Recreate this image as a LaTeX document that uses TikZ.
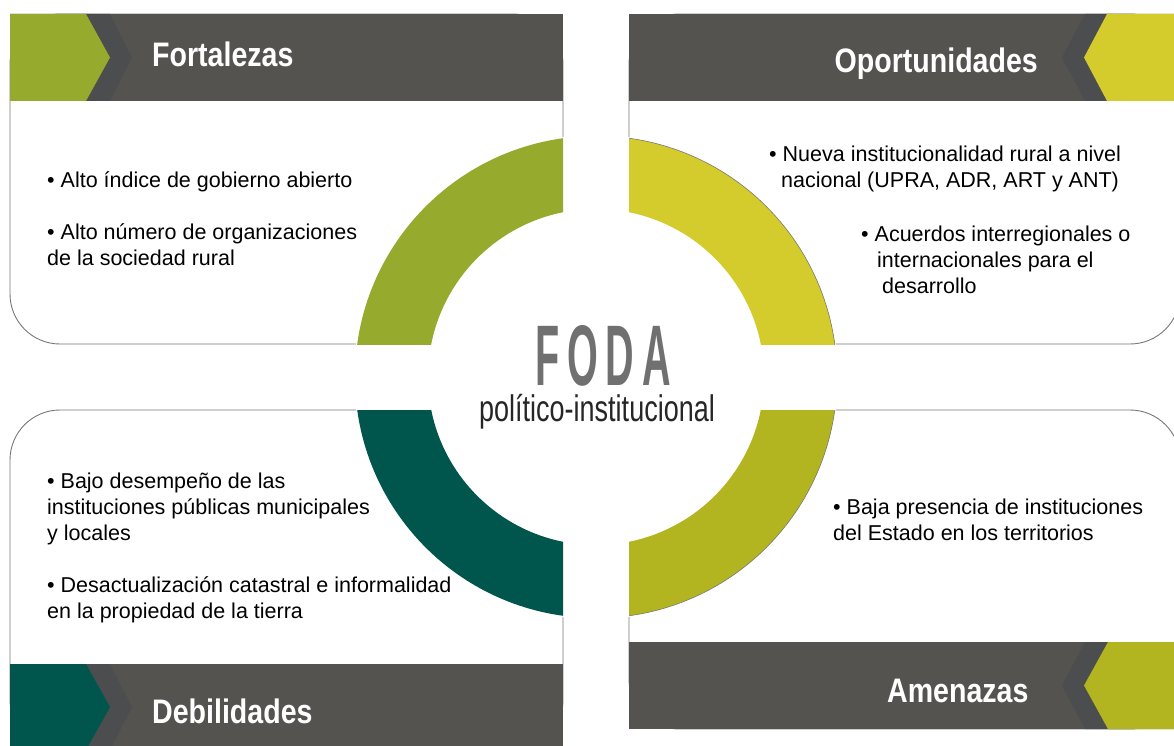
\documentclass[tikz,border=0pt]{standalone}
\usepackage{fontspec}
\setmainfont{Liberation Sans}
\newfontfamily\headfont[FakeStretch=0.84]{Liberation Sans}
\newfontfamily\fodafont[FakeStretch=0.46,LetterSpace=9]{Liberation Sans}
\newfontfamily\subfont[FakeStretch=0.73]{Liberation Sans}

\definecolor{headgray}{RGB}{85,83,80}
\definecolor{chevgray}{RGB}{76,77,79}
\definecolor{linegray}{RGB}{120,120,120}
\definecolor{fodagray}{RGB}{112,112,112}
\definecolor{fortcol}{RGB}{150,170,46}
\definecolor{oportcol}{RGB}{212,203,45}
\definecolor{debilcol}{RGB}{0,86,77}
\definecolor{amenacol}{RGB}{179,181,32}

\tikzset{
  panel/.style={fill=white, draw=linegray, line width=0.9pt, rounded corners=50pt},
  headband/.style={fill=headgray},
  headtext/.style={text=white, inner sep=0pt, font=\headfont\bfseries\fontsize{34}{34}\selectfont},
  itemtext/.style={anchor=base west, inner sep=0pt, align=left, font=\fontsize{21.5}{26}\selectfont},
}

\begin{document}
\begin{tikzpicture}[x=1pt,y=-1pt]
\useasboundingbox (0,0) rectangle (1174,746);
\clip (0,0) rectangle (1174,746);
\coordinate (ring) at (596,377);

% cuadros
\draw[panel] (10,14) rectangle (563,344);
\draw[panel] (629,14) rectangle (1180,344);
\draw[panel] (10,410) rectangle (563,750);
\draw[panel] (629,410) rectangle (1180,729);

% bandas de titulo
\fill[headband] (10,14) rectangle (563,101);
\fill[headband] (629,14) rectangle (1174,101);
\fill[headband] (10,664) rectangle (563,750);
\fill[headband] (629,642) rectangle (1174,729);

% flechas
\fill[chevgray] (10,14) -- (110,14) -- (132,57.5) -- (110,101) -- (10,101) -- cycle;
\fill[fortcol] (10,14) -- (86,14) -- (110,57.5) -- (86,101) -- (10,101) -- cycle;
\fill[chevgray] (1174,14) -- (1085,14) -- (1062,57.5) -- (1085,101) -- (1174,101) -- cycle;
\fill[oportcol] (1174,14) -- (1107,14) -- (1084,57.5) -- (1107,101) -- (1174,101) -- cycle;
\fill[chevgray] (10,664) -- (110,664) -- (132,707) -- (110,750) -- (10,750) -- cycle;
\fill[debilcol] (10,664) -- (86,664) -- (110,707) -- (86,750) -- (10,750) -- cycle;
\fill[chevgray] (1174,642) -- (1085,642) -- (1062,685.5) -- (1085,729) -- (1174,729) -- cycle;
\fill[amenacol] (1174,642) -- (1108,642) -- (1084,685.5) -- (1108,729) -- (1174,729) -- cycle;

\node[headtext, anchor=base west] (fort) at (152,67) {Fortalezas};
\node[headtext, anchor=base east] (oport) at (1038,73) {Oportunidades};
\node[headtext, anchor=base west] (debil) at (152,723) {Debilidades};
\node[headtext, anchor=base west] (amen) at (887,702) {Amenazas};

% anillo
\fill[white] (ring) circle[radius=242];
\foreach \qcol/\xa/\ya/\xb/\yb in {fortcol/0/0/563/344, oportcol/629/0/1174/344,
    debilcol/0/410/563/746, amenacol/629/410/1174/746} {
  \begin{scope}
    \clip (\xa,\ya) rectangle (\xb,\yb);
    \fill[\qcol, even odd rule] (ring) circle[radius=241] (ring) circle[radius=168];
  \end{scope}
}
\foreach \ya/\yb in {0/344, 410/746} {
  \begin{scope}
    \clip (629,\ya) rectangle (1174,\yb);
    \draw[linegray, line width=0.6pt] (ring) circle[radius=241];
  \end{scope}
}

\node[text=fodagray, inner sep=0pt, anchor=base, font=\fodafont\bfseries\fontsize{86}{86}\selectfont]
  (foda) at (603,385) {FODA};
\node[text=black!85, inner sep=0pt, anchor=base, font=\subfont\fontsize{37}{37}\selectfont]
  (sub) at (597,421) {político-institucional};

% textos
\node[itemtext] (f1) at (47,188) {• Alto índice de gobierno abierto};
\node[itemtext] (f2) at (47,265) {• Alto número de organizaciones\\de la sociedad rural};
\node[itemtext] (o1) at (769,188) {• Nueva institucionalidad rural a nivel\\\hspace*{12pt}nacional (UPRA, ADR, ART y ANT)};
\node[itemtext] (o2) at (861,293) {• Acuerdos interregionales o\\\hspace*{16pt}internacionales para el\\\hspace*{21pt}desarrollo};
\node[itemtext] (d1) at (47,540) {• Bajo desempeño de las\\instituciones públicas municipales\\y locales};
\node[itemtext] (d2) at (47,618) {• Desactualización catastral e informalidad\\en la propiedad de la tierra};
\node[itemtext] (a1) at (833,540) {• Baja presencia de instituciones\\del Estado en los territorios};
\end{tikzpicture}
\end{document}
